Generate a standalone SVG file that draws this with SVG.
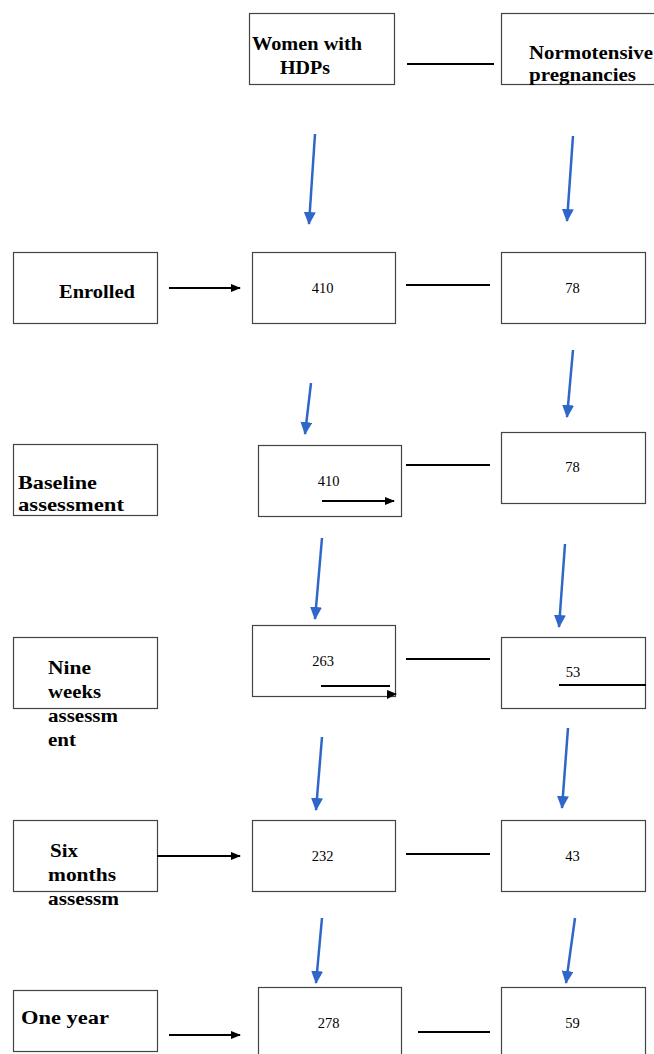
<svg xmlns="http://www.w3.org/2000/svg" width="654" height="1054" viewBox="0 0 654 1054">
<style>
.box{fill:#fff;stroke:#444;stroke-width:1.2}
.lbl{font-family:"Liberation Serif",serif;font-weight:bold;font-size:18px;fill:#000}
.num{font-family:"Liberation Serif",serif;font-size:14.5px;fill:#000;text-anchor:middle}
.ln{stroke:#000;stroke-width:2;fill:none}
.blue{stroke:#2e67c9;stroke-width:2.5;fill:none}
</style>
<defs>
<marker id="ah" markerWidth="10" markerHeight="8" refX="9" refY="4" orient="auto" markerUnits="userSpaceOnUse"><path d="M0,0 L10,4 L0,8 Z" fill="#000"/></marker>
<marker id="bh" markerWidth="13" markerHeight="12" refX="12" refY="6" orient="auto" markerUnits="userSpaceOnUse"><path d="M0,0 L13,6 L0,12 Z" fill="#2e67c9"/></marker>
</defs>
<rect width="654" height="1054" fill="#fff"/>
<g id="hdp-head"><rect class="box" x="249.5" y="13.5" width="145" height="71"/><text class="lbl" x="252" y="50" textLength="110" lengthAdjust="spacingAndGlyphs">Women with</text><text class="lbl" x="280" y="74" textLength="50" lengthAdjust="spacingAndGlyphs">HDPs</text></g>
<g id="norm-head"><rect class="box" x="501.5" y="13.5" width="160" height="71"/><text class="lbl" x="529" y="59" textLength="124" lengthAdjust="spacingAndGlyphs">Normotensive</text><text class="lbl" x="529" y="81" textLength="107" lengthAdjust="spacingAndGlyphs">pregnancies</text></g>
<g id="enrolled"><rect class="box" x="13.5" y="252.5" width="144" height="71"/><text class="lbl" x="59" y="298" textLength="76" lengthAdjust="spacingAndGlyphs">Enrolled</text></g>
<g id="h410a"><rect class="box" x="252.5" y="252.5" width="143" height="71"/><text class="num" x="322.5" y="293">410</text></g>
<g id="n78a"><rect class="box" x="501.5" y="252.5" width="144" height="71"/><text class="num" x="572.5" y="293">78</text></g>
<g id="baseline"><rect class="box" x="13.5" y="444.5" width="144" height="71"/><text class="lbl" x="18" y="489" textLength="79" lengthAdjust="spacingAndGlyphs">Baseline</text><text class="lbl" x="18" y="511" textLength="106" lengthAdjust="spacingAndGlyphs">assessment</text></g>
<g id="h410b"><rect class="box" x="258.5" y="445.5" width="143" height="71"/><text class="num" x="328.5" y="486">410</text></g>
<g id="n78b"><rect class="box" x="501.5" y="432.5" width="144" height="71"/><text class="num" x="572.5" y="472">78</text></g>
<g id="nine"><rect class="box" x="13.5" y="637.5" width="144" height="71"/><text class="lbl" x="48" y="674" textLength="43" lengthAdjust="spacingAndGlyphs">Nine</text><text class="lbl" x="48" y="698" textLength="53" lengthAdjust="spacingAndGlyphs">weeks</text><text class="lbl" x="48" y="722" textLength="70" lengthAdjust="spacingAndGlyphs">assessm</text><text class="lbl" x="48" y="746" textLength="28" lengthAdjust="spacingAndGlyphs">ent</text></g>
<g id="h263"><rect class="box" x="252.5" y="625.5" width="143" height="71"/><text class="num" x="323" y="666">263</text></g>
<g id="n53"><rect class="box" x="501.5" y="637.5" width="144" height="71"/><text class="num" x="573" y="677">53</text></g>
<g id="six"><rect class="box" x="13.5" y="820.5" width="144" height="71"/><text class="lbl" x="50" y="857" textLength="28" lengthAdjust="spacingAndGlyphs">Six</text><text class="lbl" x="48" y="881" textLength="68" lengthAdjust="spacingAndGlyphs">months</text><text class="lbl" x="48" y="905" textLength="71" lengthAdjust="spacingAndGlyphs">assessm</text></g>
<g id="h232"><rect class="box" x="252.5" y="820.5" width="143" height="71"/><text class="num" x="322.5" y="861">232</text></g>
<g id="n43"><rect class="box" x="501.5" y="820.5" width="144" height="71"/><text class="num" x="572.5" y="861">43</text></g>
<g id="oneyear"><rect class="box" x="13.5" y="990.5" width="144" height="61"/><text class="lbl" x="21" y="1024" textLength="88" lengthAdjust="spacingAndGlyphs">One year</text></g>
<g id="h278"><rect class="box" x="258.5" y="987.5" width="143" height="80"/><text class="num" x="328.5" y="1028">278</text></g>
<g id="n59"><rect class="box" x="501.5" y="987.5" width="144" height="80"/><text class="num" x="572.5" y="1028">59</text></g>
<g id="connectors">
<line class="ln" x1="407" y1="64" x2="494" y2="64"/>
<line class="ln" x1="169" y1="288" x2="240" y2="288" marker-end="url(#ah)"/>
<line class="ln" x1="406" y1="285" x2="490" y2="285"/>
<line class="ln" x1="322" y1="501" x2="394" y2="501" marker-end="url(#ah)"/>
<line class="ln" x1="406" y1="465" x2="490" y2="465"/>
<line class="ln" x1="321" y1="686" x2="390" y2="686"/>
<path d="M387,690 L397,694 L387,699 Z" fill="#000"/>
<line class="ln" x1="406" y1="659" x2="490" y2="659"/>
<line class="ln" x1="559" y1="685" x2="646" y2="685"/>
<line class="ln" x1="157" y1="856" x2="240" y2="856" marker-end="url(#ah)"/>
<line class="ln" x1="406" y1="854" x2="490" y2="854"/>
<line class="ln" x1="169" y1="1035" x2="240" y2="1035" marker-end="url(#ah)"/>
<line class="ln" x1="418" y1="1032" x2="490" y2="1032"/>
<line class="blue" x1="315" y1="134" x2="309" y2="224" marker-end="url(#bh)"/>
<line class="blue" x1="573" y1="136" x2="567" y2="221" marker-end="url(#bh)"/>
<line class="blue" x1="311" y1="383" x2="305" y2="434" marker-end="url(#bh)"/>
<line class="blue" x1="573" y1="350" x2="567" y2="417" marker-end="url(#bh)"/>
<line class="blue" x1="322" y1="538" x2="315" y2="619" marker-end="url(#bh)"/>
<line class="blue" x1="565" y1="544" x2="559" y2="627" marker-end="url(#bh)"/>
<line class="blue" x1="322" y1="737" x2="316" y2="810" marker-end="url(#bh)"/>
<line class="blue" x1="568" y1="728" x2="562" y2="808" marker-end="url(#bh)"/>
<line class="blue" x1="322" y1="918" x2="316" y2="983" marker-end="url(#bh)"/>
<line class="blue" x1="575" y1="918" x2="566" y2="983" marker-end="url(#bh)"/>
</g>
</svg>
